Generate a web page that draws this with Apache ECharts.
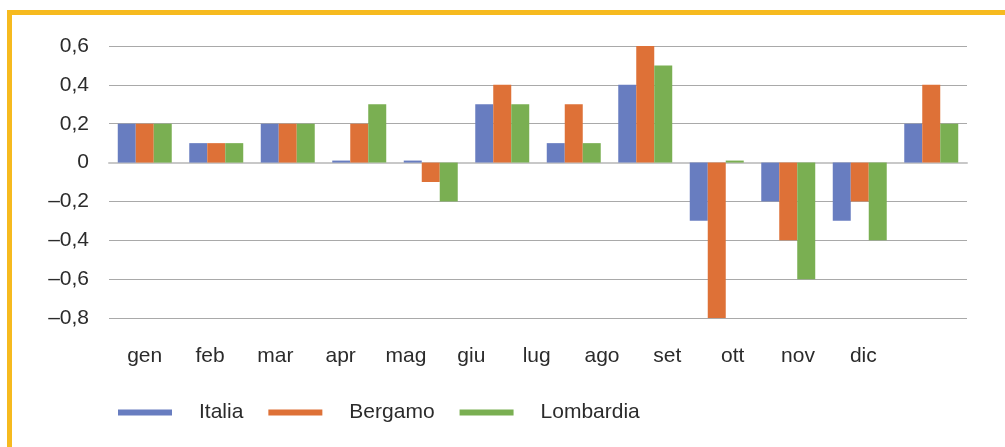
<!DOCTYPE html>
<html>
<head>
<meta charset="utf-8">
<script src="https://cdn.jsdelivr.net/npm/echarts@6/dist/echarts.min.js"></script>
<style>
  html, body { margin: 0; padding: 0; background: #fff; }
  #chart { position: absolute; left: 0; top: 0; width: 1005px; height: 447px; }
  #frame {
    position: absolute; left: 7px; top: 10px; width: 1000px; height: 440px;
    border-top: 5px solid #f6ba1f; border-left: 5px solid #f6ba1f;
    pointer-events: none;
  }
</style>
</head>
<body>
<div id="chart"></div>
<div id="frame"></div>
<script>
// mesi
var months = ['gen', 'feb', 'mar', 'apr', 'mag', 'giu', 'lug', 'ago', 'set', 'ott', 'nov', 'dic']
// valori per serie
var italia = [0.2, 0.1, 0.2, 0, 0, 0.3, 0.1, 0.4, -0.3, -0.2, -0.3, 0.2]
var bergamo = [0.2, 0.1, 0.2, 0.2, -0.1, 0.4, 0.3, 0.6, -0.8, -0.4, -0.2, 0.4]
var lombardia = [0.2, 0.1, 0.2, 0.3, -0.2, 0.3, 0.1, 0.5, 0, -0.6, -0.4, 0.2]

var seriesNames = ['Italia', 'Bergamo', 'Lombardia']
var colors = ['#687dc0', '#de7137', '#7aaf52']

var font = 'Liberation Sans, Arial, sans-serif'
var textColor = '#2b2b2b'

// formato italiano: virgola decimale, trattino come segno meno
function fmt (v) {
  var r = Math.round(v * 10) / 10
  if (r === 0) return '0'
  return (r < 0 ? '\u2013' : '') + Math.abs(r).toFixed(1).replace('.', ',')
}

var chart = echarts.init(document.getElementById('chart'))

function bar (name, data, color) {
  return {
    name: name,
    type: 'bar',
    xAxisIndex: 0,
    yAxisIndex: 0,
    data: data,
    barGap: '0%',
    barCategoryGap: '24.5%',
    barMinHeight: 2,
    itemStyle: { color: color },
    silent: true
  }
}

var option = {
  animation: false,
  backgroundColor: '#fff',
  textStyle: { fontFamily: font },
  grid: [
    { left: 109, right: 38, top: 46, bottom: 129 },
    // griglia solo per le etichette dei mesi
    { left: 112, right: 109, top: 46, bottom: 129 }
  ],
  legend: {
    left: 113,
    top: 397,
    icon: 'rect',
    itemWidth: 54,
    itemHeight: 6,
    itemGap: 25,
    data: seriesNames,
    textStyle: {
      fontFamily: font,
      fontSize: 21,
      color: textColor,
      padding: [0, 0, 0, 22]
    }
  },
  xAxis: [
    {
      type: 'category',
      gridIndex: 0,
      data: months,
      axisLine: { show: true, lineStyle: { color: '#c8c8c8', width: 2 } },
      axisTick: { show: false },
      axisLabel: { show: false }
    },
    {
      type: 'category',
      gridIndex: 1,
      data: months,
      axisLine: { show: false, onZero: false },
      axisTick: { show: false },
      axisLabel: {
        margin: 28,
        fontSize: 21,
        fontFamily: font,
        color: textColor
      }
    }
  ],
  yAxis: [
    {
      type: 'value',
      gridIndex: 0,
      min: -0.8,
      max: 0.6,
      interval: 0.2,
      axisLine: { show: false },
      axisTick: { show: false },
      splitLine: { lineStyle: { color: '#a9a9a9', width: 1 } },
      axisLabel: {
        margin: 20,
        fontSize: 21,
        fontFamily: font,
        color: textColor,
        formatter: fmt
      }
    },
    {
      type: 'value',
      gridIndex: 1,
      min: 0,
      max: 1,
      show: false
    }
  ],
  series: [
    bar(seriesNames[0], italia, colors[0]),
    bar(seriesNames[1], bergamo, colors[1]),
    bar(seriesNames[2], lombardia, colors[2])
  ]
}

chart.setOption(option)
</script>
</body>
</html>
